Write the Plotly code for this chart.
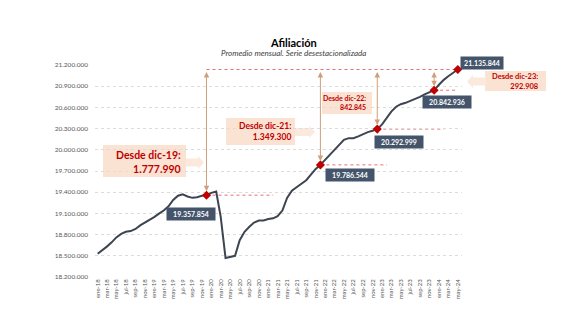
import pandas as pd
import plotly.graph_objects as go

# ---------------- data ----------------
months = pd.date_range("2018-01-01", periods=77, freq="MS")
afiliados = [
    18530000, 18580000, 18630000, 18690000, 18760000, 18810000, 18840000, 18850000, 18880000, 18930000, 18970000, 19000000,  # 2018
    19050000, 19100000, 19140000, 19200000, 19290000, 19350000, 19370000, 19340000, 19320000, 19330000, 19350000, 19357854,  # 2019
    19390000, 19410000, 19050000, 18470000, 18490000, 18500000, 18720000, 18840000, 18910000, 18970000, 19000000, 19000000,  # 2020
    19020000, 19030000, 19060000, 19140000, 19320000, 19420000, 19470000, 19520000, 19570000, 19650000, 19730000, 19786544,  # 2021
    19860000, 19940000, 20010000, 20080000, 20140000, 20165000, 20165000, 20190000, 20225000, 20250000, 20270000, 20292999,  # 2022
    20360000, 20450000, 20540000, 20610000, 20645000, 20665000, 20690000, 20720000, 20750000, 20785000, 20815000, 20842936,  # 2023
    20920000, 20990000, 21040000, 21090000, 21135844,                                                                          # 2024
]
ref_labels = ["dic-19", "dic-21", "dic-22", "dic-23"]
ref_index = [23, 47, 59, 71]

y_ticks = [18200000, 18500000, 18800000, 19100000, 19400000, 19700000,
           20000000, 20300000, 20600000, 20900000, 21200000]
y_tick_labels = ["18.200.000", "18.500.000", "18.800.000", "19.100.000", "19.400.000", "19.700.000",
                 "20.000.000", "20.300.000", "20.600.000", "20.900.000", "21.200.000"]
x_tick_labels = [
    "ene-18", "mar-18", "may-18", "jul-18", "sep-18", "nov-18",
    "ene-19", "mar-19", "may-19", "jul-19", "sep-19", "nov-19",
    "ene-20", "mar-20", "may-20", "jul-20", "sep-20", "nov-20",
    "ene-21", "mar-21", "may-21", "jul-21", "sep-21", "nov-21",
    "ene-22", "mar-22", "may-22", "jul-22", "sep-22", "nov-22",
    "ene-23", "mar-23", "may-23", "jul-23", "sep-23", "nov-23",
    "ene-24", "mar-24", "may-24",
]
x_tick_vals = list(months[::2])

# ---------------- style ----------------
FONT = "Lato"
LINE = "#3d4551"
RED = "#c00000"
REFLINE = "#e87070"
ARROW = "#cf9f7a"
PEACH = "#fbe3d4"
PEACH2 = "#fce9de"
NAVY = "#44546a"

L, R, T, B = 95, 107, 65, 52
W, H = 569, 329
PW, PH = W - L - R, H - T - B


def PX(x):
    return (x - L) / PW


def PY(y):
    return (H - B - y) / PH


def fmt(v):
    return f"{v:,.0f}".replace(",", ".")


last_i = len(afiliados) - 1
last_v = afiliados[-1]
ref_dates = [months[i] for i in ref_index]
ref_vals = [afiliados[i] for i in ref_index]

fig = go.Figure()
fig.add_trace(go.Scatter(x=months, y=afiliados, mode="lines",
                         line=dict(color=LINE, width=2), hoverinfo="skip"))
fig.add_trace(go.Scatter(x=ref_dates + [months[last_i]], y=ref_vals + [last_v], mode="markers",
                         marker=dict(symbol="diamond", color=RED, size=7), cliponaxis=False))

shapes = []
annotations = []

# horizontal red dotted reference lines
for i, v in zip(ref_index, ref_vals):
    end = months[min(i + 14, last_i)]
    shapes.append(dict(type="line", xref="x", yref="y", x0=months[i], x1=end, y0=v, y1=v,
                       line=dict(color=REFLINE, width=1, dash="dot"), layer="below"))
shapes.append(dict(type="line", xref="x", yref="y", x0=ref_dates[0], x1=months[last_i],
                   y0=last_v, y1=last_v, line=dict(color=REFLINE, width=1, dash="dot"), layer="below"))

# vertical double arrows
for d, v in zip(ref_dates, ref_vals):
    annotations.append(dict(x=d, y=v, ax=d, ay=last_v, xref="x", yref="y", axref="x", ayref="y",
                            text="", showarrow=True, arrowside="end+start", arrowhead=2,
                            arrowsize=1.1, arrowwidth=1, arrowcolor=ARROW, standoff=4, startstandoff=1))

# value labels
shifts = [(-16, -19), (30, -10), (22, -13), (13, -12)]
for d, v, (sx, sy) in zip(ref_dates, ref_vals, shifts):
    annotations.append(dict(x=d, y=v, xref="x", yref="y", text=f"<b>{fmt(v)}</b>", showarrow=False,
                            xshift=sx, yshift=sy, bgcolor=NAVY, borderpad=2, width=44, height=8,
                            font=dict(family=FONT, size=7, color="white")))
annotations.append(dict(x=months[last_i], y=last_v, xref="x", yref="y", text=f"<b>{fmt(last_v)}</b>",
                        showarrow=False, xshift=24, yshift=7, bgcolor=NAVY, borderpad=2, width=38,
                        height=8, font=dict(family=FONT, size=7, color="white")))


def rect(x0, y0, x1, y1, color=PEACH):
    shapes.append(dict(type="rect", xref="paper", yref="paper", x0=PX(x0), x1=PX(x1),
                       y0=PY(y1), y1=PY(y0), fillcolor=color, line=dict(width=0), layer="below"))


def block_arrow(x0, x1, yc, body=7, head=12, hl=6, color=PEACH2):
    d = 1 if x1 > x0 else -1
    pts = [(x0, yc - body / 2), (x1 - d * hl, yc - body / 2), (x1 - d * hl, yc - head / 2), (x1, yc),
           (x1 - d * hl, yc + head / 2), (x1 - d * hl, yc + body / 2), (x0, yc + body / 2)]
    path = "M " + " L ".join(f"{PX(x):.4f},{PY(y):.4f}" for x, y in pts) + " Z"
    shapes.append(dict(type="path", xref="paper", yref="paper", path=path, fillcolor=color,
                       line=dict(width=0), layer="below"))


def callout(xr, yc, label, diff, size):
    annotations.append(dict(x=PX(xr), y=PY(yc), xref="paper", yref="paper", xanchor="right",
                            yanchor="middle", align="right", showarrow=False,
                            text=f"<b>Desde {label}:<br>{fmt(diff)}</b>",
                            font=dict(family=FONT, size=size, color=RED)))


diffs = [last_v - v for v in ref_vals]

# dic-19
rect(103, 145, 186, 177)
block_arrow(186, 204, 162.5, body=8, head=13)
callout(183, 162, ref_labels[0], diffs[0], 10.5)
# dic-21
rect(226, 118, 295, 145)
block_arrow(295, 315, 132, body=8, head=12)
callout(293, 131.5, ref_labels[1], diffs[1], 8.5)
# dic-22
rect(322, 92, 372, 114)
callout(368, 102.5, ref_labels[2], diffs[2], 7)
# dic-23
rect(485, 71, 546, 91)
block_arrow(486, 467, 81.5, body=8, head=13)
callout(541, 81.5, ref_labels[3], diffs[3], 7.5)

# titles
annotations.append(dict(x=PX(293), y=PY(34), xref="paper", yref="paper", showarrow=False,
                        text="<b>Afiliación</b>", font=dict(family=FONT, size=11, color="#000000")))
annotations.append(dict(x=PX(293), y=PY(46), xref="paper", yref="paper", showarrow=False,
                        text="<i>Promedio mensual. Serie desestacionalizada</i>",
                        font=dict(family=FONT, size=8, color="#404040")))

x_start = pd.Timestamp("2018-01-01") - pd.Timedelta(days=17)
x_end = pd.Timestamp("2024-05-01") + pd.Timedelta(days=27)

fig.update_layout(
    width=W, height=H, margin=dict(l=L, r=R, t=T, b=B),
    paper_bgcolor="white", plot_bgcolor="white", showlegend=False,
    font=dict(family=FONT, color="#595959"),
    shapes=shapes, annotations=annotations,
    xaxis=dict(range=[x_start, x_end], tickvals=x_tick_vals, ticktext=x_tick_labels,
               tickangle=-90, tickfont=dict(size=6, color="#595959"), showgrid=False,
               zeroline=False, showline=False, ticks=""),
    yaxis=dict(range=[18200000, 21200000], tickvals=y_ticks, ticktext=y_tick_labels,
               tickfont=dict(size=6.5, color="#595959"), showgrid=True, gridcolor="#dcdcdc",
               griddash="dot", gridwidth=1, zeroline=False, showline=False, ticks="",
               ticklabelstandoff=6),
)

fig.write_html("out.html")
